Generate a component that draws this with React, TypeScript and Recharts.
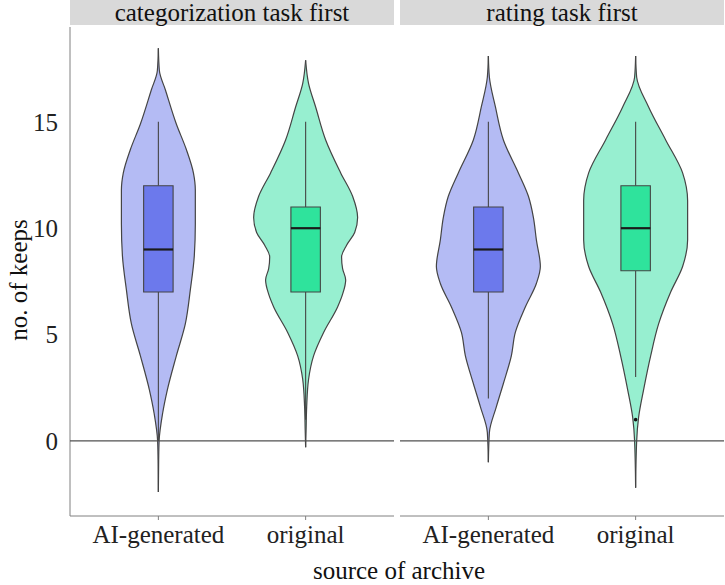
import {
  Area,
  ComposedChart,
  ReferenceArea,
  ReferenceDot,
  ReferenceLine,
  XAxis,
  YAxis,
} from "recharts";

const FONT = '"Liberation Serif", "Times New Roman", serif';

const categories = ["AI-generated", "original"];
const panelTitles = ["categorization task first", "rating task first"];
const yTicks = [0, 5, 10, 15];

// violin outlines: level on the value axis + half width in category units
const catAiLevels = [-2.4, -0.9, 0, 1.3, 2.4, 4.0, 5.5, 7.1, 8.7, 10.2, 11.8, 12.6, 13.7, 14.9, 16.5, 17.4, 18.46];
const catAiWidths = [0, 0.002, 0.005, 0.029, 0.061, 0.122, 0.183, 0.217, 0.244, 0.251, 0.251, 0.238, 0.19, 0.122, 0.048, 0.007, 0];
const catOrigLevels = [-0.3, 0.5, 1.6, 2.9, 4.0, 5.1, 6.3, 6.9, 7.57, 8.1, 8.65, 9.2, 9.8, 10.5, 11.5, 12.6, 14.15, 15.7, 16.8, 17.9];
const catOrigWidths = [0, 0.003, 0.007, 0.02, 0.054, 0.122, 0.217, 0.251, 0.272, 0.251, 0.244, 0.278, 0.333, 0.353, 0.319, 0.238, 0.136, 0.068, 0.02, 0];
const ratAiLevels = [-1.0, 0.4, 1.6, 2.7, 4.0, 5.1, 6.3, 7.4, 8.2, 9.45, 10.5, 11.5, 12.6, 14.15, 15.7, 17.1, 18.1];
const ratAiWidths = [0, 0.007, 0.054, 0.102, 0.156, 0.183, 0.251, 0.326, 0.353, 0.326, 0.306, 0.272, 0.204, 0.102, 0.048, 0.007, 0];
const ratOrigLevels = [-2.2, 0, 1.1, 2.4, 4.0, 5.5, 7.0, 8.2, 9.45, 11.3, 12.6, 14.15, 15.7, 17.1, 18.1];
const ratOrigWidths = [0, 0.007, 0.02, 0.054, 0.102, 0.156, 0.238, 0.319, 0.353, 0.353, 0.319, 0.204, 0.088, 0.007, 0];

// box plot stats, one entry per category (AI-generated, original)
const catLow = [0, 1];
const catQ1 = [7, 7];
const catMedian = [9, 10];
const catQ3 = [12, 11];
const catHigh = [15, 15];
const ratLow = [2, 3];
const ratQ1 = [7, 8];
const ratMedian = [9, 10];
const ratQ3 = [11, 12];
const ratHigh = [15, 15];
const ratOutliers = [[], [1]];

const violinFill = ["#b4bbf4", "#97efd0"];
const boxFill = ["#6c79ec", "#2fe39c"];
const OUTLINE = "#444";
const AXIS = "#808080";
const BOX_HALF = 0.1;

type PanelProps = {
  levels: number[][];
  widths: number[][];
  low: number[];
  q1: number[];
  median: number[];
  q3: number[];
  high: number[];
  outliers: number[][];
  showY: boolean;
  width: number;
};

function Panel(p: PanelProps) {
  const tickStyle = { fontSize: 25, fill: "#222", fontFamily: FONT };
  return (
    <ComposedChart
      layout="vertical"
      width={p.width}
      height={529}
      margin={{ top: 0, right: p.showY ? 0 : 1, bottom: 0, left: 0 }}
    >
      <XAxis
        type="number"
        domain={[0.4, 2.6]}
        ticks={[1, 2]}
        interval={0}
        allowDataOverflow
        tickFormatter={(t: number) => categories[t - 1]}
        height={40}
        tick={tickStyle}
        tickSize={4}
        tickMargin={5}
        tickLine={{ stroke: AXIS }}
        axisLine={{ stroke: AXIS }}
      />
      <YAxis
        type="number"
        dataKey="v"
        domain={[-3.53, 19.46]}
        ticks={yTicks}
        interval={0}
        reversed
        allowDataOverflow
        hide={!p.showY}
        width={p.showY ? 70 : 0}
        tick={tickStyle}
        tickLine={false}
        tickSize={6}
        tickMargin={6}
        axisLine={{ stroke: AXIS }}
      />
      {categories.map((c, i) => (
        <Area
          key={c}
          data={p.levels[i].map((v, j) => ({
            v,
            span: [i + 1 - p.widths[i][j], i + 1 + p.widths[i][j]],
          }))}
          dataKey="span"
          type="monotone"
          fill={violinFill[i]}
          fillOpacity={1}
          stroke={OUTLINE}
          strokeWidth={1.2}
          dot={false}
          activeDot={false}
          isAnimationActive={false}
          zIndex={100}
        />
      ))}
      <ReferenceLine y={0} stroke="#505050" strokeWidth={1.3} zIndex={580} />
      {categories.map((c, i) => (
        <ReferenceLine
          key={c + "hi"}
          segment={[
            { x: i + 1, y: p.q3[i] },
            { x: i + 1, y: p.high[i] },
          ]}
          stroke={OUTLINE}
          strokeWidth={1.1}
          zIndex={600}
        />
      ))}
      {categories.map((c, i) => (
        <ReferenceLine
          key={c + "lo"}
          segment={[
            { x: i + 1, y: p.low[i] },
            { x: i + 1, y: p.q1[i] },
          ]}
          stroke={OUTLINE}
          strokeWidth={1.1}
          zIndex={600}
        />
      ))}
      {categories.map((c, i) => (
        <ReferenceArea
          key={c + "box"}
          x1={i + 1 - BOX_HALF}
          x2={i + 1 + BOX_HALF}
          y1={p.q1[i]}
          y2={p.q3[i]}
          fill={boxFill[i]}
          fillOpacity={1}
          stroke={OUTLINE}
          strokeOpacity={1}
          strokeWidth={1.1}
          zIndex={650}
        />
      ))}
      {categories.map((c, i) => (
        <ReferenceLine
          key={c + "med"}
          segment={[
            { x: i + 1 - BOX_HALF, y: p.median[i] },
            { x: i + 1 + BOX_HALF, y: p.median[i] },
          ]}
          stroke="#1a1a1a"
          strokeWidth={2.2}
          zIndex={700}
        />
      ))}
      {categories.map((c, i) =>
        p.outliers[i].map((o, k) => (
          <ReferenceDot
            key={c + "out" + k}
            x={i + 1}
            y={o}
            r={1.8}
            fill="#111"
            stroke="none"
            zIndex={750}
          />
        ))
      )}
    </ComposedChart>
  );
}

const stripStyle = {
  position: "absolute" as const,
  top: 0,
  height: 25,
  width: 324,
  background: "#d9d9d9",
  fontFamily: FONT,
  fontSize: 25,
  lineHeight: "25px",
  textAlign: "center" as const,
  color: "#111",
};

export default function App() {
  return (
    <div
      style={{
        position: "absolute",
        left: 0,
        top: 0,
        width: 725,
        height: 585,
        background: "#fff",
        overflow: "hidden",
        fontFamily: FONT,
      }}
    >
      <div style={{ ...stripStyle, left: 70 }}>{panelTitles[0]}</div>
      <div style={{ ...stripStyle, left: 400 }}>{panelTitles[1]}</div>

      <div style={{ position: "absolute", left: 0, top: 27 }}>
        <Panel
          showY
          width={394}
          levels={[catAiLevels, catOrigLevels]}
          widths={[catAiWidths, catOrigWidths]}
          low={catLow}
          q1={catQ1}
          median={catMedian}
          q3={catQ3}
          high={catHigh}
          outliers={[[], []]}
        />
      </div>
      <div style={{ position: "absolute", left: 400, top: 27 }}>
        <Panel
          showY={false}
          width={325}
          levels={[ratAiLevels, ratOrigLevels]}
          widths={[ratAiWidths, ratOrigWidths]}
          low={ratLow}
          q1={ratQ1}
          median={ratMedian}
          q3={ratQ3}
          high={ratHigh}
          outliers={ratOutliers}
        />
      </div>

      <div
        style={{
          position: "absolute",
          left: 18,
          top: 280,
          transform: "translate(-50%, -50%) rotate(-90deg)",
          whiteSpace: "nowrap",
          fontSize: 25,
          lineHeight: 1,
          color: "#111",
        }}
      >
        no. of keeps
      </div>
      <div
        style={{
          position: "absolute",
          left: 399,
          top: 570,
          transform: "translate(-50%, -50%)",
          whiteSpace: "nowrap",
          fontSize: 25,
          lineHeight: 1,
          color: "#111",
        }}
      >
        source of archive
      </div>
    </div>
  );
}
